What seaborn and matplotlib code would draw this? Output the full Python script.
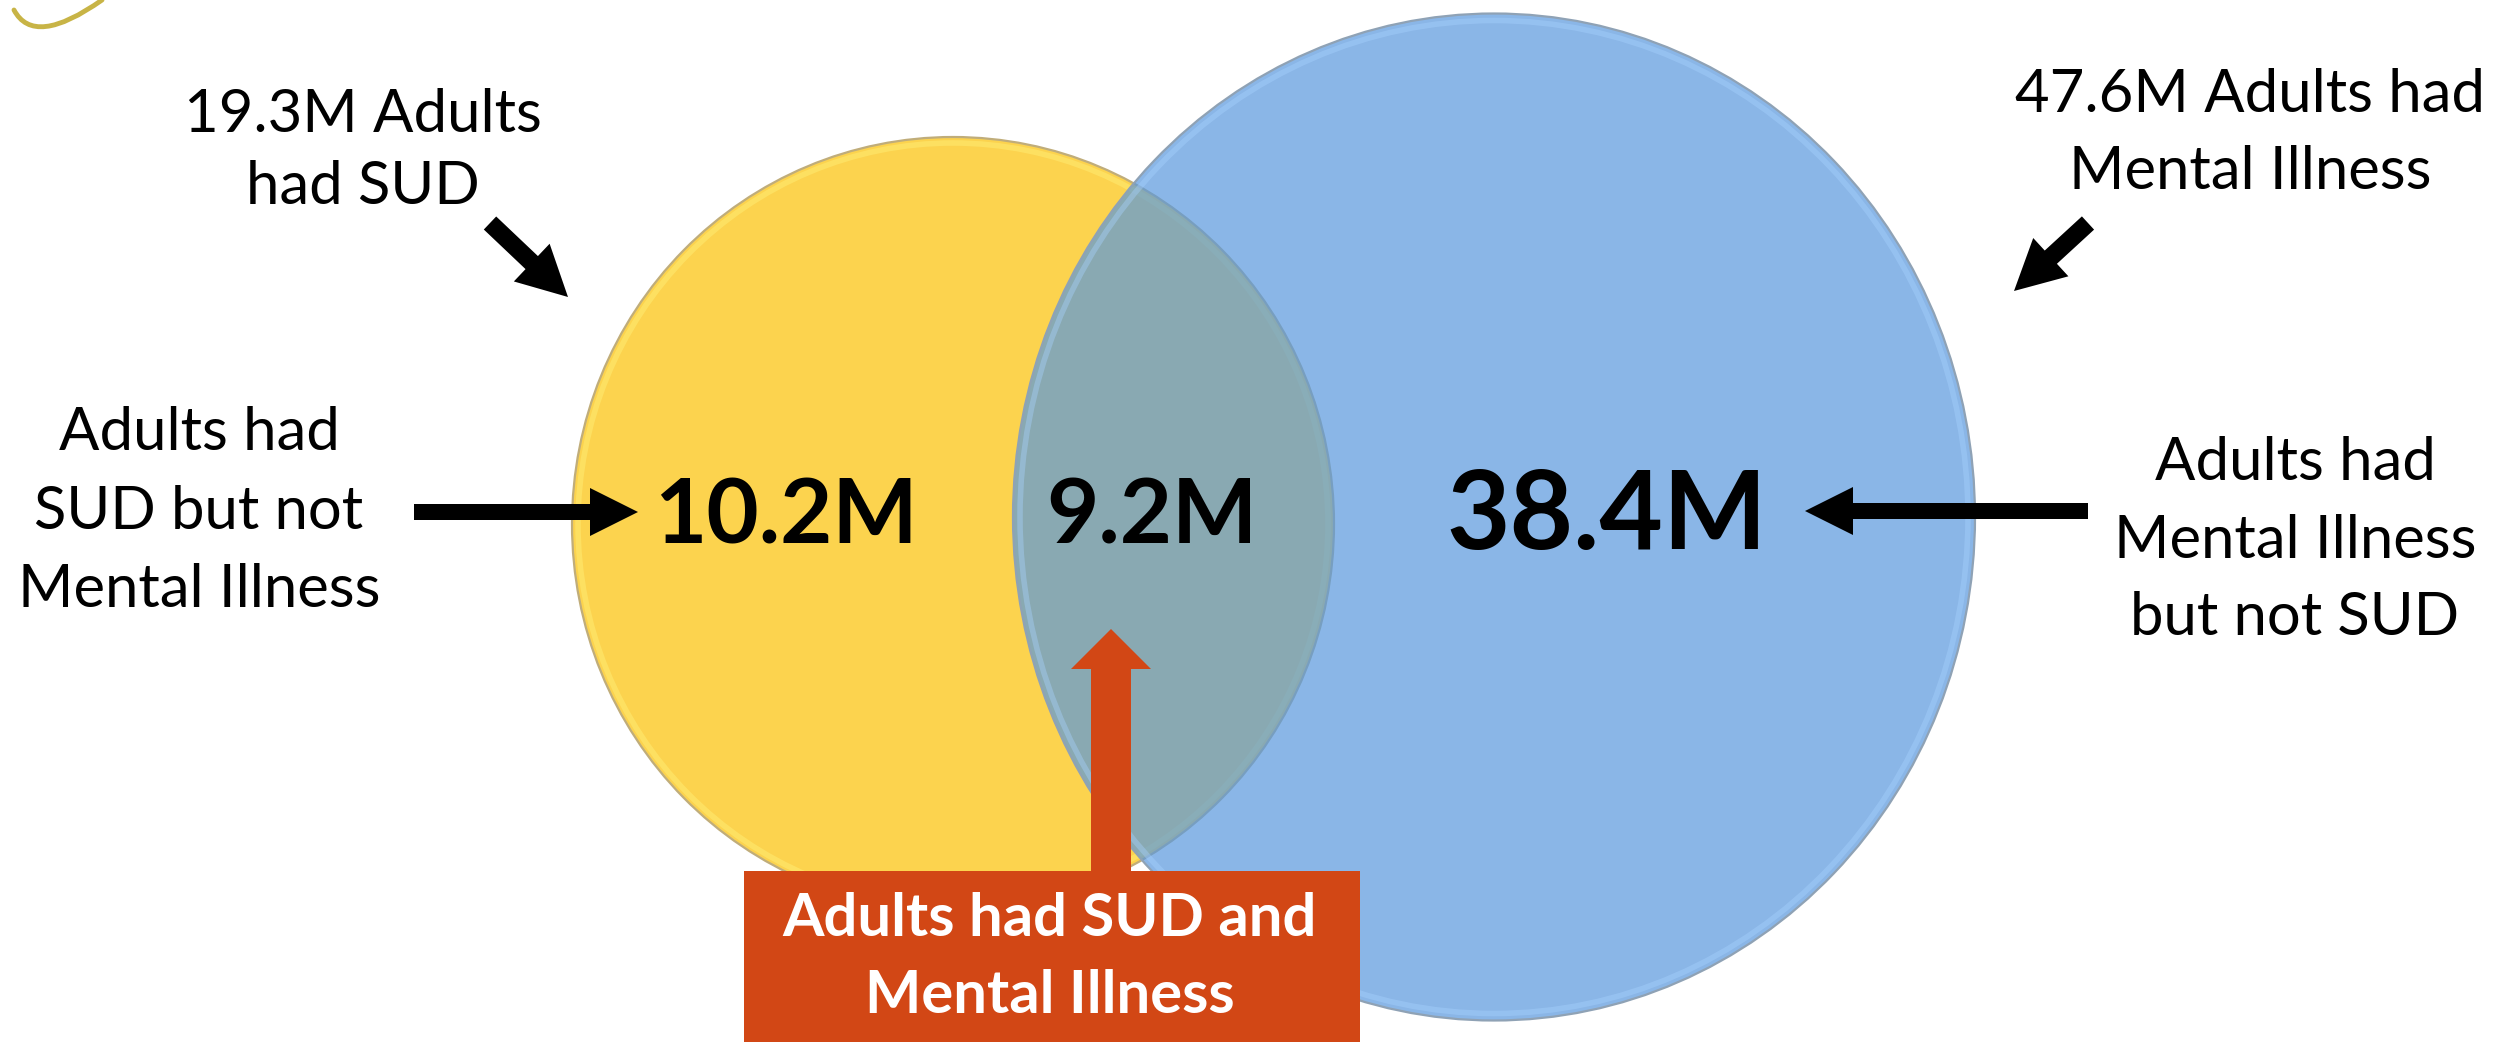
import matplotlib
matplotlib.use("Agg")
import matplotlib.pyplot as plt
from matplotlib.patches import Ellipse, Rectangle, FancyArrow, PathPatch
from matplotlib.path import Path
import seaborn as sns

# ---------------- data ----------------
sud_total = "19.3M"
mi_total = "47.6M"
sud_only = "10.2M"
both = "9.2M"
mi_only = "38.4M"

sud_total_lines = [f"{sud_total} Adults", "had SUD"]
mi_total_lines = [f"{mi_total} Adults had", "Mental Illness"]
sud_only_lines = ["Adults had", "SUD but not", "Mental Illness"]
mi_only_lines = ["Adults had", "Mental Illness", "but not SUD"]
both_lines = ["Adults had SUD and", "Mental Illness"]

# ---------------- style ----------------
sns.set_theme(style="white")
plt.rcParams["font.family"] = ["Lato", "DejaVu Sans"]

W, H = 2494, 1042
fig = plt.figure(figsize=(W / 100, H / 100), dpi=100)
ax = fig.add_axes([0, 0, 1, 1])
ax.set_xlim(0, W)
ax.set_ylim(H, 0)
ax.set_aspect("equal")
ax.axis("off")

yellow = (252 / 255, 211 / 255, 78 / 255)
blue = (88 / 255, 152 / 255, 222 / 255)
orange = (210 / 255, 71 / 255, 21 / 255)

# decorative swoosh top-left
swoosh = Path([(14, 10), (34, 48), (102, 0)], [Path.MOVETO, Path.CURVE3, Path.CURVE3])
ax.add_patch(PathPatch(swoosh, fill=False, edgecolor="#c8b446", lw=3.5, capstyle="round"))

# yellow circle (SUD)
yc, yw, yh = (953, 524), 762, 774
ax.add_patch(Ellipse(yc, yw, yh, facecolor=yellow, edgecolor="none", zorder=1))
ax.add_patch(Ellipse(yc, yw - 12, yh - 12, facecolor="none", edgecolor="#fff07a", lw=4, alpha=0.45, zorder=1.1))
ax.add_patch(Ellipse(yc, yw, yh, facecolor="none", edgecolor="#c0ad7a", lw=1.6, zorder=1.2))

# blue circle (Mental Illness)
bc, bw, bh = (1494, 517), 962, 1007
ax.add_patch(Ellipse(bc, bw, bh, facecolor=blue, alpha=0.7, edgecolor="none", zorder=2))
ax.add_patch(Ellipse(bc, bw - 14, bh - 14, facecolor="none", edgecolor="#a8d2ff", lw=4, alpha=0.4, zorder=2.1))
ax.add_patch(Ellipse(bc, bw, bh, facecolor="none", edgecolor="#8fa2b5", lw=1.6, zorder=2.2))

# numbers inside
num_kw = dict(ha="center", va="center", fontweight="bold", color="black", zorder=5)
ax.text(786, 517, sud_only, fontsize=65, **num_kw)
ax.text(1152, 517, both, fontsize=65, **num_kw)
ax.text(1607, 518, mi_only, fontsize=79, **num_kw)

# annotation texts
def lines(x, ys, txts, **kw):
    for y, t in zip(ys, txts):
        ax.text(x, y, t, ha="center", va="center", zorder=6, **kw)

txt_kw = dict(fontsize=43, color="black")
lines(363, [115, 187], sud_total_lines, **txt_kw)
lines(2250, [95, 172], mi_total_lines, **txt_kw)
lines(199, [433, 512, 590], sud_only_lines, **txt_kw)
lines(2295, [463, 541, 618], mi_only_lines, **txt_kw)

# black arrows
def arrow(x0, y0, x1, y1, w=16, hw=48, hl=48, color="black"):
    ax.add_patch(FancyArrow(x0, y0, x1 - x0, y1 - y0, width=w, head_width=hw, head_length=hl,
                            length_includes_head=True, color=color, lw=0, zorder=7))

arrow(414, 512, 638, 512)
arrow(2088, 511, 1805, 511)
arrow(490, 223, 568, 297, w=18, hw=52, hl=50)
arrow(2088, 223, 2014, 291, w=18, hw=52, hl=50)

# orange box + arrow
arrow(1111, 880, 1111, 629, w=40, hw=80, hl=40, color=orange)
ax.add_patch(Rectangle((744, 871), 616, 200, facecolor=orange, edgecolor="none", zorder=8))
box_kw = dict(fontsize=43, color="white", fontweight="bold")
for y, t in zip([919, 996], both_lines):
    ax.text(1050, y, t, ha="center", va="center", zorder=9, **box_kw)

fig.savefig("out.png", dpi=100)
